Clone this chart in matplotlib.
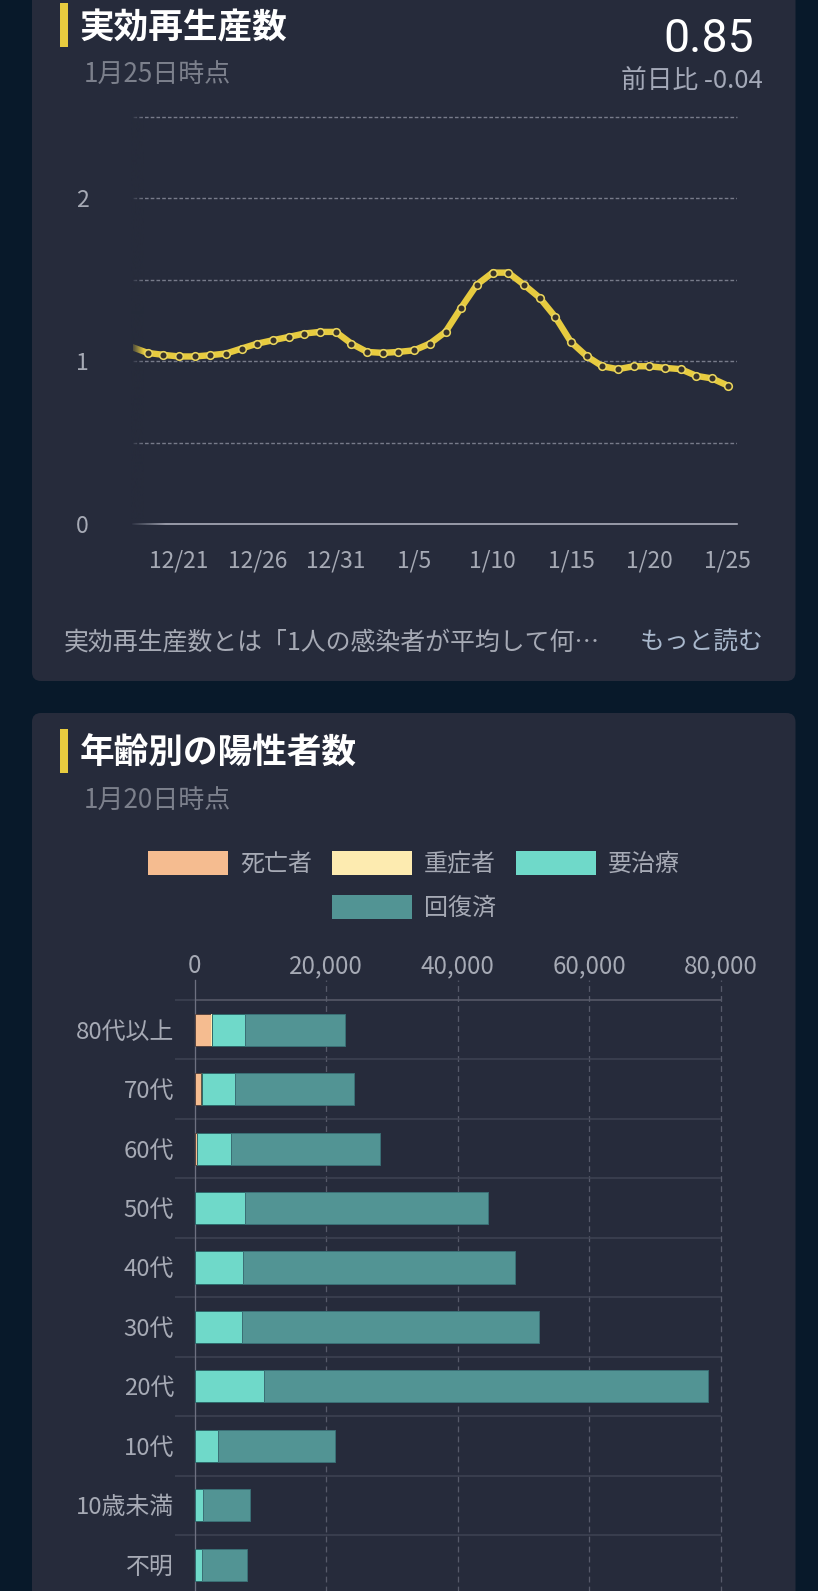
import numpy as np
import matplotlib
matplotlib.use("Agg")
import matplotlib.pyplot as plt
from matplotlib.patches import FancyBboxPatch, Rectangle
from matplotlib.colors import to_rgb

plt.rcParams['font.family'] = ['Noto Sans CJK JP', 'DejaVu Sans']

# ---- data ----
rt_values = [1.087, 1.051, 1.039, 1.029, 1.029, 1.037, 1.047, 1.078, 1.108, 1.129, 1.149,
             1.170, 1.180, 1.180, 1.108, 1.057, 1.051, 1.057, 1.067, 1.108, 1.180,
             1.329, 1.470, 1.544, 1.544, 1.470, 1.390, 1.272, 1.118, 1.031, 0.969,
             0.951, 0.969, 0.969, 0.959, 0.951, 0.910, 0.894, 0.850]
rt_tick_idx = [3, 8, 13, 18, 23, 28, 33, 38]
rt_tick_labels = ['12/21', '12/26', '12/31', '1/5', '1/10', '1/15', '1/20', '1/25']
rt_y_ticks = [0, 1, 2]

age_groups = ['80代以上', '70代', '60代', '50代', '40代', '30代', '20代', '10代', '10歳未満', '不明']
dead = [2540, 950, 320, 20, 10, 5, 5, 0, 0, 5]
severe = [30, 100, 110, 20, 10, 5, 5, 5, 0, 5]
treating = [5120, 5134, 5120, 7571, 7353, 7205, 10535, 3563, 1268, 1100]
recovered = [15123, 18056, 22650, 37005, 41385, 45191, 67458, 17838, 7086, 6927]
series_names = ['死亡者', '重症者', '要治療', '回復済']
x_ticks = [0, 20000, 40000, 60000, 80000]

# ---- style ----
BG = '#08192a'
CARD = '#262b3b'
YEL = '#e7cb3f'
TXT = '#a6aab5'
DIM = '#7c808c'
COLS = ['#f5bc90', '#fdebb0', '#6fd9c9', '#529494']
EDGES = ['#5b4640', '#5b5a48', '#2f6a6c', '#3a6f75']
W, H = 818, 1591
PT = 0.72

fig = plt.figure(figsize=(W / 100, H / 100), dpi=100, facecolor=BG)


def px_axes(l, t, r, b, **kw):
    return fig.add_axes([l / W, 1 - b / H, (r - l) / W, (b - t) / H], **kw)


bg = fig.add_axes([0, 0, 1, 1], zorder=0)
bg.set_xlim(0, W)
bg.set_ylim(H, 0)
bg.axis('off')
for top, bot in [(-30, 681), (713, H + 30)]:
    bg.add_patch(FancyBboxPatch((32, top), 763.5, bot - top, boxstyle='round,pad=0,rounding_size=9',
                                fc=CARD, ec='none'))
for top, bot in [(3, 47), (729, 773)]:
    bg.add_patch(Rectangle((60, top), 8, bot - top, fc=YEL, ec='none'))


def t(x, y, s, px, color=TXT, ha='left', weight='normal', family=None):
    kw = {'family': family} if family else {}
    bg.text(x, y, s, fontsize=px * PT, color=color, ha=ha, va='center_baseline', fontweight=weight, **kw)


t(80, 24, '実効再生産数', 34.7, '#ffffff', weight='bold')
t(84, 72, '1月25日時点', 26, DIM)
t(754, 34, '0.85', 46.5, '#ffffff', ha='right', family=['Roboto', 'DejaVu Sans'])
t(763, 78, '前日比 -0.04', 25.7, '#a4a9b8', ha='right')
t(64, 640, '実効再生産数とは「1人の感染者が平均して何…', 24.9, TXT)
t(640, 640, 'もっと読む', 24.8, '#a9b8cc')
t(80, 750, '年齢別の陽性者数', 34.7, '#ffffff', weight='bold')
t(84, 798, '1月20日時点', 26, DIM)

# ---- line chart ----
ax1 = px_axes(133, 117, 737, 524, zorder=1)
ax1.patch.set_alpha(0)
xs = np.arange(len(rt_values))
ax1.set_xlim(1 - (147.6 - 133) / 15.68, 1 + (737 - 147.6) / 15.68)
ax1.set_ylim(0, 2.5)
for sp in ax1.spines.values():
    sp.set_visible(False)
ax1.set_yticks(rt_y_ticks)
ax1.set_yticks([0.5, 1.5, 2.5], minor=True)
ax1.set_xticks(rt_tick_idx)
ax1.set_xticklabels(rt_tick_labels)
ax1.tick_params(axis='y', which='major', length=0, pad=32, labelsize=23 * PT, labelcolor=TXT)
ax1.tick_params(axis='y', which='minor', length=0)
ax1.tick_params(axis='x', length=0, pad=18, labelsize=22.8 * PT, labelcolor=TXT)
ax1.grid(axis='y', which='both', color='#777b8a', lw=1.4 * PT, linestyle=(0, (2.6, 1.5)))
ax1.yaxis.get_major_ticks()[0].gridline.set_visible(False)
ax1.yaxis.get_minor_ticks()[-1].gridline.set_clip_on(False)
ax1.axhline(0, color='#b0b3c0', lw=1.6 * PT, clip_on=False)
ax1.set_axisbelow(True)
ax1.plot(xs, rt_values, color=YEL, lw=6.4 * PT, solid_joinstyle='round', zorder=3)
ax1.plot(xs[1:], rt_values[1:], ls='none', marker='o', ms=7.6 * PT, mfc='#38332a', mec='#e9d45c',
         mew=1.6 * PT, zorder=4)

# ---- fades at the left of the line chart ----
ov = fig.add_axes([0, 0, 1, 1], zorder=5)
ov.axis('off')
rgb = to_rgb(CARD)
g1 = np.zeros((1, 64, 4))
g1[..., :3] = rgb
g1[..., 3] = np.linspace(0.95, 0, 64)
ov.imshow(g1, extent=(131, 144, 519, 110), aspect='auto', interpolation='bilinear')
ov.imshow(g1, extent=(131, 166, 527, 520), aspect='auto', interpolation='bilinear')
ov.set_xlim(0, W)
ov.set_ylim(H, 0)

# ---- legend ----
legend_pos = [(148, 851), (332, 851), (516, 851), (332, 895)]
for name, col, (lx, ly) in zip(series_names, COLS, legend_pos):
    bg.add_patch(Rectangle((lx, ly), 80, 24, fc=col, ec='none'))
    t(lx + 92, ly + 11, name, 24)

# ---- bar chart ----
band = 59.44
ax2 = px_axes(194.6, 980, 721, 1000 + 10 * band, zorder=1)
ax2.patch.set_alpha(0)
ax2.set_xlim(0, 80000)
ax2.set_ylim(9.5, -0.5 - 20 / band)
for k, sp in ax2.spines.items():
    sp.set_visible(k == 'left')
ax2.spines['left'].set_color('#6d7080')
ax2.spines['left'].set_linewidth(1.3 * PT)
y = np.arange(len(age_groups))
left = np.zeros(len(age_groups))
for vals, col, ec in zip([dead, severe, treating, recovered], COLS, EDGES):
    v = np.array(vals, dtype=float)
    ax2.barh(y, v, left=left, height=0.54, color=col, edgecolor=ec, linewidth=1.0 * PT * (v > 30), zorder=3)
    left += v
ax2.set_yticks(y)
ax2.set_yticklabels(age_groups)
ax2.set_yticks(np.arange(-0.5, 9.6, 1), minor=True)
ax2.tick_params(axis='y', which='major', length=0, pad=20.5 * PT, labelsize=23.9 * PT, labelcolor=TXT)
ax2.tick_params(axis='y', which='minor', length=20.5 * PT, width=1.5 * PT, color='#3f4353')
ax2.grid(axis='y', which='minor', color='#3f4353', lw=1.5 * PT)
minor = ax2.yaxis.get_minor_ticks()
minor[0].tick1line.set_color('#5a5d6c')
minor[0].gridline.set_color('#5a5d6c')
ax2.set_xticks(x_ticks)
ax2.set_xticklabels([f'{v:,}' for v in x_ticks])
ax2.xaxis.tick_top()
ax2.tick_params(axis='x', length=0, pad=0.5, labelsize=24.2 * PT, labelcolor=TXT)
ax2.grid(axis='x', color='#565a6a', lw=1.3 * PT, linestyle=(0, (4.5, 3.2)))
xt = ax2.xaxis.get_major_ticks()
xt[0].gridline.set_visible(False)
xt[-1].gridline.set_clip_on(False)
ax2.set_axisbelow(True)

fig.savefig('out.png', dpi=100, facecolor=BG)
